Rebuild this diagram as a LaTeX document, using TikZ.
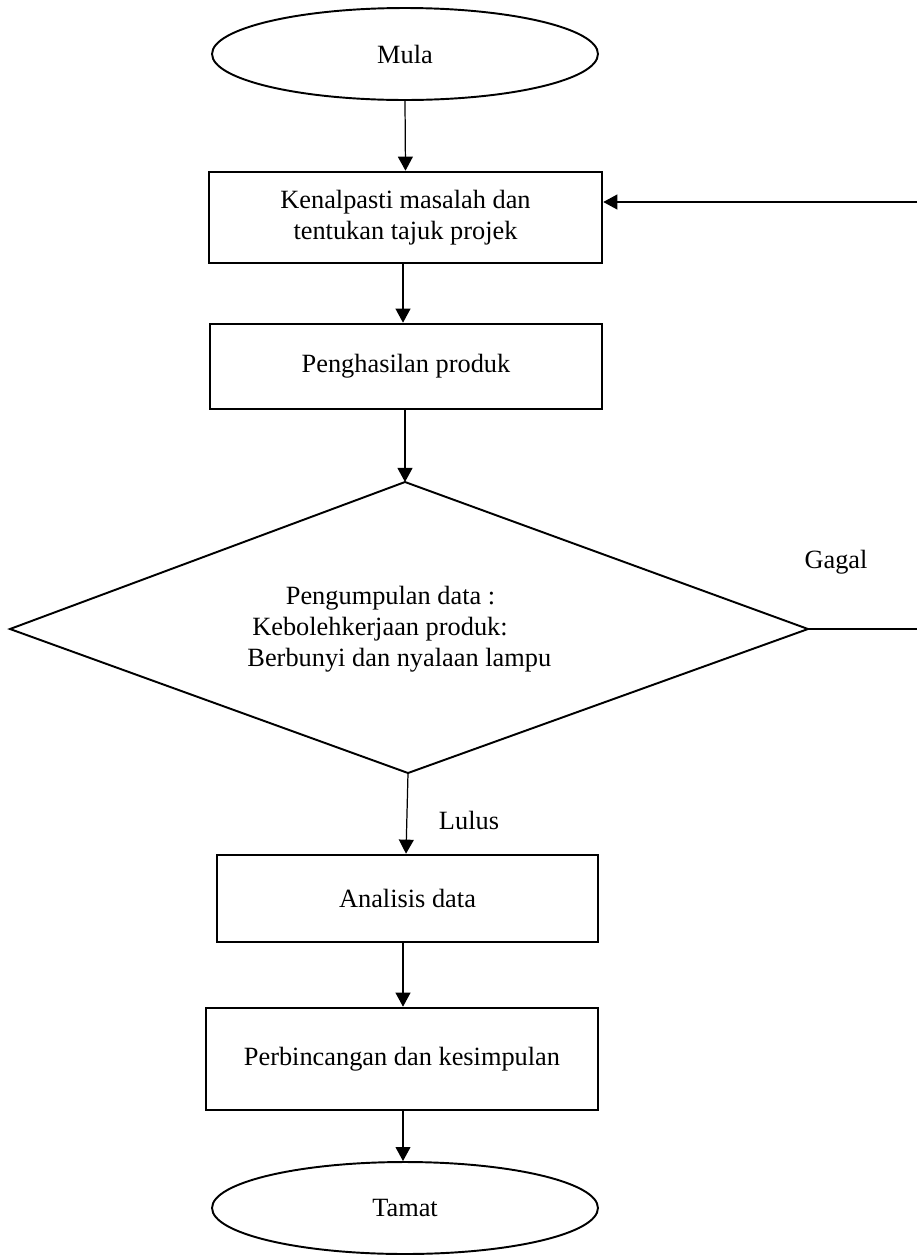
\documentclass[tikz,border=0pt]{standalone}
\usepackage{fontspec}
\setmainfont{Liberation Serif}
\usetikzlibrary{arrows.meta,shapes.geometric}
\begin{document}
\begin{tikzpicture}[x=0.02cm,y=-0.02cm,
  every node/.style={font=\fontsize{15}{17.5}\selectfont},
  terminal/.style={draw,line width=1.1pt,ellipse,minimum width=7.72cm,minimum height=1.84cm,inner sep=0pt},
  procbox/.style={draw,line width=1.5pt,rectangle,inner sep=0pt,align=center},
  flow/.style={line width=0.7pt,-{Triangle[length=8pt,width=8.5pt]}},
  plain/.style={line width=0.7pt}]
\useasboundingbox (0,0) rectangle (917,1255);

% start and end
\node[terminal] (mula) at (405,54) {Mula};
\node[terminal] (tamat) at (405,1208) {Tamat};

% process boxes
\node[procbox,minimum width=7.86cm,minimum height=1.82cm] (b1) at (405.5,217.5)
  {\raisebox{-4pt}{\parbox{7cm}{\centering Kenalpasti masalah dan\\tentukan tajuk projek}}};
\node[procbox,minimum width=7.84cm,minimum height=1.70cm] (b2) at (406,366.5)
  {Penghasilan produk};
\node[procbox,minimum width=7.62cm,minimum height=1.74cm] (b3) at (407.5,898.5)
  {Analisis data};
\node[procbox,minimum width=7.84cm,minimum height=2.04cm] (b4) at (402,1059)
  {Perbincangan dan kesimpulan};

% decision
\coordinate (dt) at (405,482);
\coordinate (dl) at (10,629);
\coordinate (dr) at (808,629);
\coordinate (db) at (408,773);
\draw[line width=1.1pt,line join=miter] (dt) -- (dr) -- (db) -- (dl) -- cycle;
\node[align=center] (dtext) at (380,629)
  {\hspace*{12pt}Pengumpulan data :\\Kebolehkerjaan produk:\\\hspace*{22pt}Berbunyi dan nyalaan lampu};

% labels
\node (gagal) at (836,562) {Gagal};
\node (lulus) at (469,820) {Lulus};

% loop-back ends
\coordinate (rin) at (917,202);
\coordinate (rout) at (917,629);

% connectors
\draw[flow] (mula.south) -- (b1.north);
\draw[flow] (b1.south -| 403,0) -- (b2.north -| 403,0);
\draw[flow] (b2.south -| 405,0) -- (dt);
\draw[flow] (db) -- (b3.north -| 406,0);
\draw[flow] (b3.south -| 403,0) -- (b4.north -| 403,0);
\draw[flow] (b4.south -| 403,0) -- (tamat.north -| 403,0);
\draw[plain] (dr) -- (rout);
\draw[flow] (rin) -- (b1.east |- rin);
\end{tikzpicture}
\end{document}
